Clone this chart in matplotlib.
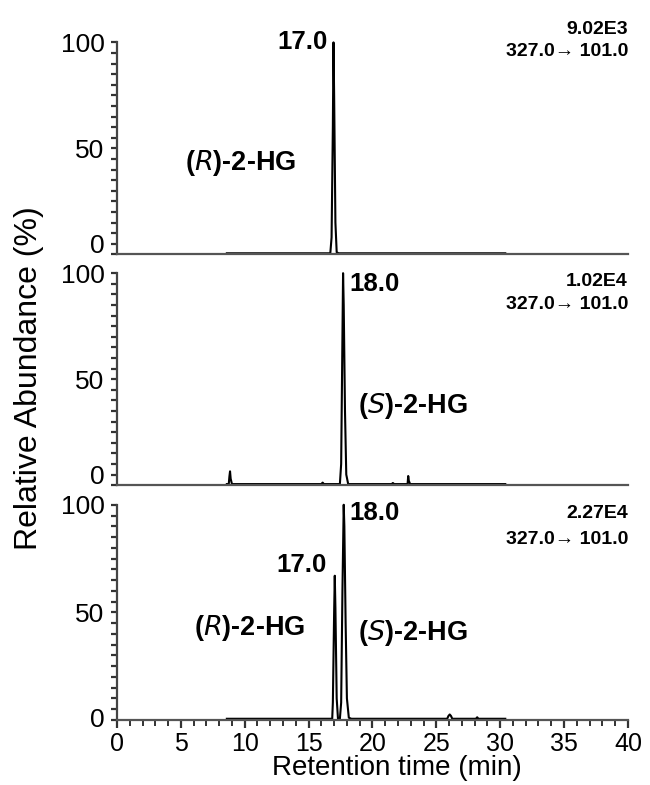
import matplotlib
matplotlib.use("Agg")
import matplotlib.pyplot as plt
from matplotlib.ticker import MultipleLocator
from matplotlib.transforms import ScaledTranslation

plt.rcParams['font.family'] = ['Liberation Sans', 'DejaVu Sans']

# chromatogram traces (retention time in min, relative abundance in %)
t_r = [8.6, 12.0, 16.7, 16.8, 16.9, 16.95, 17.0, 17.1, 17.2, 17.35, 22.0, 30.4]
i_r = [0.5, 0.5, 0.5, 8, 60, 100, 75, 15, 1.0, 0.5, 0.5, 0.5]

t_s = [8.6, 8.75, 8.8, 8.85, 8.9, 9.0, 16.0, 16.1, 16.2, 17.45, 17.55, 17.65, 17.7, 17.75,
       17.85, 17.95, 18.1, 21.5, 21.6, 21.7, 22.75, 22.8, 22.85, 22.95, 30.4]
i_s = [0.5, 0.5, 4, 6.5, 3, 0.5, 0.5, 1.2, 0.5, 0.5, 10, 70, 100, 85, 35, 5, 0.5, 0.5,
       1.0, 0.5, 0.5, 4.3, 2, 0.5, 0.5]

t_mix = [8.6, 16.85, 16.9, 17.0, 17.05, 17.1, 17.2, 17.3, 17.45, 17.55, 17.65, 17.75, 17.8,
         17.9, 18.0, 18.15, 18.35, 25.85, 25.95, 26.05, 26.15, 26.25, 28.1, 28.2, 28.3, 30.4]
i_mix = [0.5, 0.5, 8, 50, 67, 52, 10, 0.6, 0.5, 8, 60, 100, 90, 45, 10, 1.0, 0.5, 0.5, 1.8,
         2.5, 1.8, 0.5, 0.5, 1.2, 0.5, 0.5]

traces = [(t_r, i_r), (t_s, i_s), (t_mix, i_mix)]
intensity = ["9.02E3", "1.02E4", "2.27E4"]
transition = "327.0\u2192 101.0"
# vertical placement of the intensity / transition lines (data units)
info_y = [(106, 95.5), (96, 85), (96, 84)]

# peak labels: (text, x, y, ha)
rt_labels = [
    [("17.0", 16.5, 100, "right")],
    [("18.0", 18.2, 95, "left")],
    [("17.0", 16.4, 72, "right"), ("18.0", 18.2, 96, "left")],
]
name_labels = [
    [(r"($\mathbf{\it{R}}$)-2-HG", 5.3, 43)],
    [(r"($\mathbf{\it{S}}$)-2-HG", 18.9, 37.5)],
    [(r"($\mathbf{\it{R}}$)-2-HG", 6.0, 42.5), (r"($\mathbf{\it{S}}$)-2-HG", 18.9, 40.5)],
]
# the "0" tick label sits a little above the baseline (points)
zero_shift = [8, 8, 2]

fig = plt.figure(figsize=(6.5, 7.85), dpi=100)
boxes = [(0.180, 0.676, 0.786, 0.270),
         (0.180, 0.382, 0.786, 0.270),
         (0.180, 0.083, 0.786, 0.274)]

for k, box in enumerate(boxes):
    ax = fig.add_axes(box)
    t, y = traces[k]
    ax.plot(t, y, color="black", lw=1.5, clip_on=False)
    ax.set_xlim(0, 40)
    ax.set_ylim(0, 100)
    for s in ["top", "right"]:
        ax.spines[s].set_visible(False)
    ax.spines["left"].set_color("#444444")
    ax.spines["bottom"].set_color("#555555")
    ax.spines["left"].set_linewidth(1.6)
    ax.spines["bottom"].set_linewidth(1.6)
    ax.set_yticks([0, 50, 100])
    ax.yaxis.set_minor_locator(MultipleLocator(5))
    ax.tick_params(axis="y", which="both", length=4, width=1.6, color="#333333",
                   labelsize=19, pad=5)
    lab0 = ax.yaxis.get_major_ticks()[0].label1
    lab0.set_transform(lab0.get_transform() +
                       ScaledTranslation(0, zero_shift[k] / 72, fig.dpi_scale_trans))
    if k < 2:
        ax.tick_params(axis="x", which="both", bottom=False, labelbottom=False)
    else:
        ax.xaxis.set_major_locator(MultipleLocator(5))
        ax.xaxis.set_minor_locator(MultipleLocator(1))
        ax.tick_params(axis="x", which="major", length=6, width=1.6, color="#333333",
                       labelsize=18, pad=3)
        ax.tick_params(axis="x", which="minor", length=4, width=1.4, color="#333333")

    for txt, x, yy, ha in rt_labels[k]:
        ax.text(x, yy, txt, ha=ha, va="center", fontsize=18.5, fontweight="bold")
    for txt, x, yy in name_labels[k]:
        ax.text(x, yy, txt, ha="left", va="center", fontsize=19.5, fontweight="bold")

    ax.text(40, info_y[k][0], intensity[k], ha="right", va="center",
            fontsize=14, fontweight="bold", clip_on=False)
    ax.text(40, info_y[k][1], transition, ha="right", va="center",
            fontsize=14, fontweight="bold", clip_on=False)

fig.text(0.044, 0.518, "Relative Abundance (%)", rotation=90, ha="center", va="center",
         fontsize=23)
fig.text(0.611, 0.022, "Retention time (min)", ha="center", va="center", fontsize=20)

fig.savefig("out.png", dpi=100)
